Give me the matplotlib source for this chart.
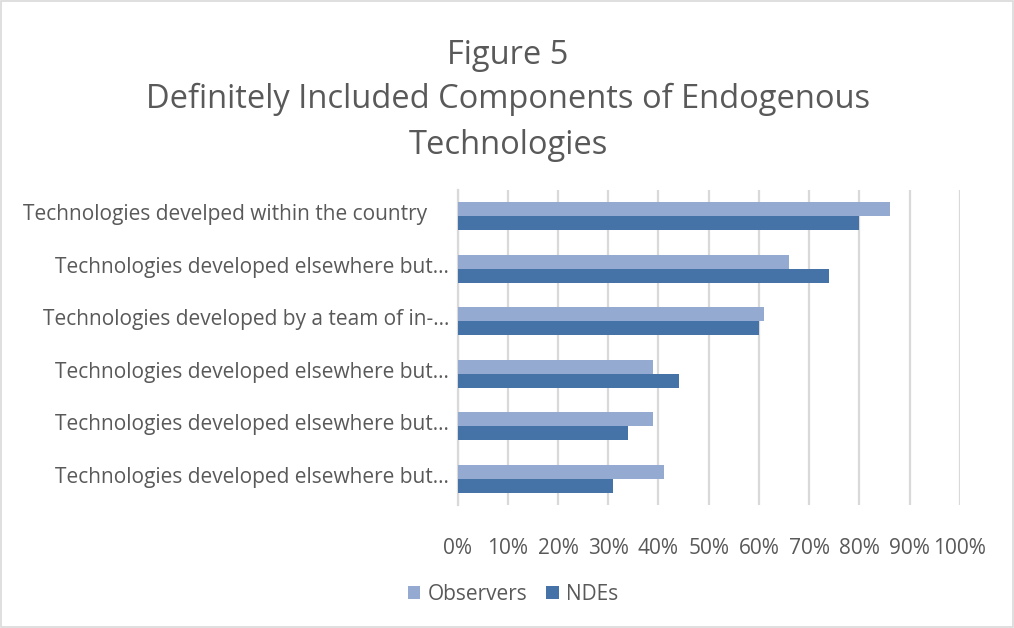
import matplotlib.pyplot as plt
import matplotlib.transforms as mtransforms
import numpy as np
from matplotlib.ticker import PercentFormatter

categories = [
    "Technologies develped within the country",
    "Technologies developed elsewhere but\u2026",
    "Technologies developed by a team of in-\u2026",
    "Technologies developed elsewhere but\u2026",
    "Technologies developed elsewhere but\u2026",
    "Technologies developed elsewhere but\u2026",
]
observers = [86, 66, 61, 39, 39, 41]
ndes = [80, 74, 60, 44, 34, 31]
x_ticks = [0, 10, 20, 30, 40, 50, 60, 70, 80, 90, 100]

TEXT = "#595959"
GRID = "#D9D9D9"
C_OBS = "#95AAD0"
C_NDE = "#4573A7"

plt.rcParams["font.family"] = ["Open Sans", "DejaVu Sans"]

fig = plt.figure(figsize=(10.14, 6.28), dpi=100)
ax = fig.add_axes([0.4512, 0.1959, 0.4955, 0.5016])

y = np.arange(len(categories))
h = 0.267
ax.barh(y - h / 2, observers, height=h, color=C_OBS, label="Observers", zorder=3)
ax.barh(y + h / 2, ndes, height=h, color=C_NDE, label="NDEs", zorder=3)

ax.set_xlim(0, 100)
ax.set_ylim(len(categories) - 0.5, -0.5)
ax.set_xticks(x_ticks)
ax.xaxis.set_major_formatter(PercentFormatter(decimals=0))
ax.set_yticks(y)
ax.set_yticklabels(categories)
ax.grid(axis="x", color=GRID, linewidth=1.6, zorder=0)
for s in ["top", "right", "bottom"]:
    ax.spines[s].set_visible(False)
ax.spines["left"].set_color(GRID)
ax.spines["left"].set_linewidth(1.6)
ax.tick_params(axis="x", length=0, pad=24, labelsize=15, labelcolor=TEXT)
ax.tick_params(axis="y", length=0, pad=6, labelsize=15, labelcolor=TEXT)

# category labels sit a little above the group centre; the first one is inset further
for i, lab in enumerate(ax.get_yticklabels()):
    dx = -22 / 100 if i == 0 else 0
    lab.set_transform(lab.get_transform() +
                      mtransforms.ScaledTranslation(dx, 4 / 100, fig.dpi_scale_trans))

fig.text(0.501, 0.912, "Figure 5", ha="center", va="center", fontsize=23.5, color=TEXT)
fig.text(0.501, 0.841, "Definitely Included Components of Endogenous", ha="center",
         va="center", fontsize=23.5, color=TEXT)
fig.text(0.501, 0.769, "Technologies", ha="center", va="center", fontsize=23.5, color=TEXT)

fig.legend(loc="center", bbox_to_anchor=(0.506, 0.054), ncol=2, frameon=False,
           fontsize=15, labelcolor=TEXT, handlelength=0.6, handleheight=0.6,
           handletextpad=0.35, columnspacing=0.9)

fig.patches.append(plt.Rectangle((0.001, 0.001), 0.998, 0.998, transform=fig.transFigure,
                                 fill=False, edgecolor=GRID, linewidth=1.2))

fig.savefig("out.png", dpi=100, facecolor="white")
